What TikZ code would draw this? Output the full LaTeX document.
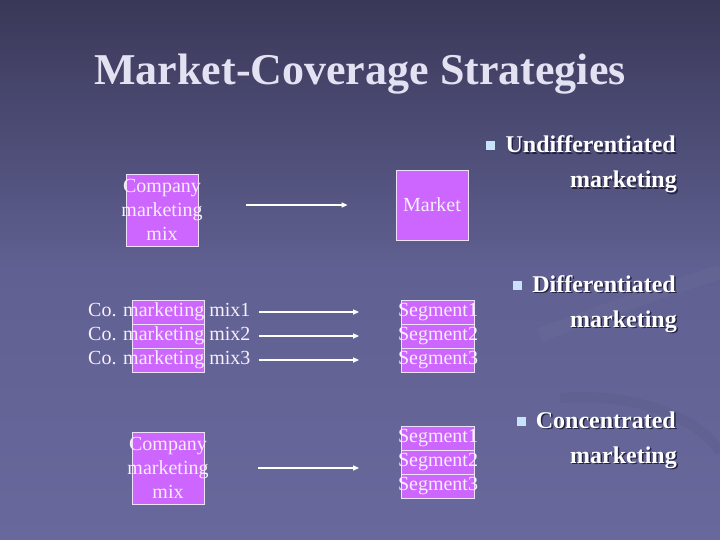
\documentclass[tikz,border=0pt]{standalone}
\usepackage{fontspec}
\setmainfont{Liberation Serif}
\usetikzlibrary{arrows.meta,positioning,calc}
\definecolor{bgtop}{RGB}{58,56,88}
\definecolor{bgmid}{RGB}{96,96,146}
\definecolor{bgbot}{RGB}{104,104,156}
\definecolor{boxfill}{RGB}{204,102,255}
\definecolor{boxline}{RGB}{240,225,250}
\definecolor{txtpale}{RGB}{248,238,252}
\definecolor{ttlcolor}{RGB}{226,226,242}
\definecolor{bulletsq}{RGB}{200,226,250}
\definecolor{shadowc}{RGB}{36,34,64}

\begin{document}
\begin{tikzpicture}[x=1bp,y=-1bp,
    mixbox/.style={draw=boxline,line width=0.8bp,fill=boxfill,minimum width=72bp,minimum height=72bp,inner sep=0pt},
    cellbox/.style={draw=boxline,line width=0.8bp,fill=boxfill,minimum width=73bp,minimum height=24bp,inner sep=0pt},
    bodytxt/.style={text=txtpale,font=\fontsize{20bp}{24bp}\selectfont,inner sep=0pt,align=center},
    bullettxt/.style={text=white,font=\bfseries\fontsize{24bp}{30bp}\selectfont,inner sep=0pt,anchor=base east},
    flow/.style={draw=white,line width=1.8bp,-{Triangle[length=6bp,width=5bp]}}]
  % Background and swoosh
  \useasboundingbox (0,0) rectangle (720,540);
  \shade[top color=bgtop,bottom color=bgmid] (0,0) rectangle (720,270);
  \shade[top color=bgmid,bottom color=bgbot] (0,270) rectangle (720,540);
  \draw[white,opacity=0.025,line width=14bp] (540,335) .. controls (620,305) and (680,285) .. (720,272);
  \draw[shadowc,opacity=0.06,line width=10bp] (560,398) .. controls (640,392) and (700,420) .. (720,452);

  % Title
  \node[font=\bfseries\fontsize{44bp}{50bp}\selectfont,text=ttlcolor,anchor=base] (ttl) at (360,85) {Market-Coverage Strategies};

  % Undifferentiated: one mix, one market
  \node[mixbox] (mixA) at (162,210) {};
  \node[bodytxt] (mixAtxt) at (mixA) {Company\\marketing\\mix};
  \node[mixbox,minimum height=70bp] (mkt) at (432,205) {};
  \node[bodytxt] (mkttxt) at (mkt) {Market};
  \draw[flow,shorten <=48bp,shorten >=48bp] (mixA.east |- mkt.west) -- (mkt.west);

  % Differentiated: one mix per segment
  \foreach \i/\yy in {1/312,2/336,3/360} {
    \node[cellbox,minimum width=72bp] (mixB\i) at (168,\yy) {};
    \node[cellbox] (segB\i) at (438,\yy) {};
  }
  \foreach \i/\yy in {1/312,2/336,3/360} {
    \node[bodytxt,anchor=west] (mixBtxt\i) at (88,\yy) {Co. marketing mix\i};
    \node[bodytxt] (segBtxt\i) at (segB\i) {Segment\i};
    \draw[flow,shorten <=8bp,shorten >=42bp] (mixBtxt\i.east) -- (segB\i.west);
  }

  % Concentrated: one mix, several segments
  \node[mixbox] (mixC) at (168,468) {};
  \node[bodytxt] (mixCtxt) at (mixC) {Company\\marketing\\mix};
  \foreach \i/\yy in {1/438,2/462,3/486}
    \node[cellbox] (segC\i) at (438,\yy) {};
  \foreach \i/\yy in {1/438,2/462,3/486}
    \node[bodytxt] (segCtxt\i) at (segC\i) {Segment\i};
  \draw[flow,shorten <=54bp,shorten >=42bp] (mixC.east) -- (mixC.east -| segC2.west);

  % Bullet list on the right
  \foreach \n/\txt/\yy in {undiff/Undifferentiated/153,diff/Differentiated/292,conc/Concentrated/428} {
    \node[bullettxt,text=shadowc] (\n-sh) at (677.5,{\yy+1.5}) {\txt};
    \node[bullettxt] (\n) at (676,\yy) {\txt};
    \node[bullettxt,text=shadowc] (\n m-sh) at (678.5,{\yy+36.5}) {marketing};
    \node[bullettxt] (\n m) at (677,{\yy+35}) {marketing};
    \node[fill=bulletsq,minimum size=9bp,inner sep=0pt] (\n-bul) at ($(\n.base west)+(-14.5,-7)$) {};
  }
\end{tikzpicture}
\end{document}
